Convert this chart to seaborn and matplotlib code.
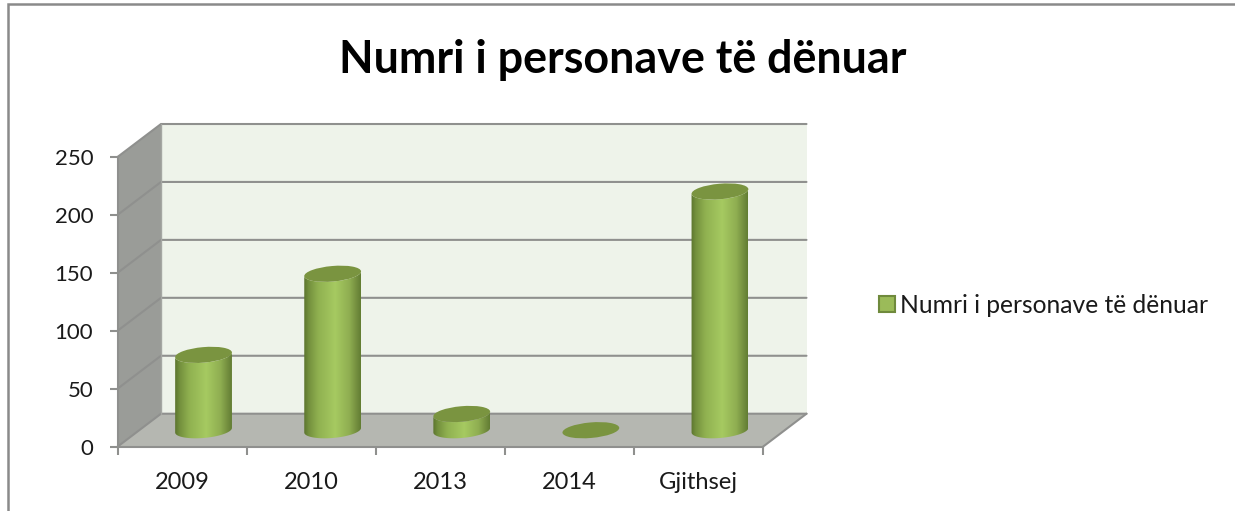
import numpy as np
import pandas as pd
import matplotlib
matplotlib.use("Agg")
import matplotlib.pyplot as plt
import seaborn as sns
from matplotlib.colors import LinearSegmentedColormap
from matplotlib.lines import Line2D
from matplotlib.patches import Ellipse, Patch, PathPatch, Polygon
from matplotlib.path import Path
from matplotlib.transforms import IdentityTransform, ScaledTranslation

title = "Numri i personave të dënuar"
categories = ["2009", "2010", "2013", "2014", "Gjithsej"]
values = [65, 135, 14, 0, 206]
y_ticks = [0, 50, 100, 150, 200, 250]

W, H, DPI = 1235, 511, 100
sns.set_style("white")
plt.rcParams["font.family"] = ["Lato", "DejaVu Sans"]

GRID = "#8f908e"
TEXT = "#1a1a1a"
fig = plt.figure(figsize=(W / DPI, H / DPI), dpi=DPI, facecolor="white")
ax = fig.add_axes([117.5 / W, 1 - 446.7 / H, (763 - 117.5) / W, (446.7 - 157) / H])
ax.patch.set_visible(False)

df = pd.DataFrame({"year": categories, "count": values})
sns.barplot(data=df, x="year", y="count", color="#9BBB59", width=0.434,
            saturation=1, ax=ax, zorder=5)
ax.set_xlim(-0.5, 4.5)
ax.set_ylim(0, 250)
ax.set_xlabel("")
ax.set_ylabel("")

# 3D box drawn in data units
x0, x1 = -0.5, 4.5
dx, dy = 43.5 / 129.1, 33 / 1.159
ax.add_patch(Polygon([(x0 + dx, dy), (x1 + dx, dy), (x1 + dx, 250 + dy), (x0 + dx, 250 + dy)],
                     fc="#eef3ea", ec="none", clip_on=False, zorder=1))
ax.add_patch(Polygon([(x0, 0), (x0 + dx, dy), (x0 + dx, 250 + dy), (x0, 250)],
                     fc="#9a9c98", ec="none", clip_on=False, zorder=1))
ax.add_patch(Polygon([(x0, 0), (x1, 0), (x1 + dx, dy), (x0 + dx, dy)],
                     fc="#b5b7b1", ec="none", clip_on=False, zorder=1))
for v in y_ticks:
    ax.plot([x0, x0 + dx, x1 + dx], [v, v + dy, v + dy], color=GRID, lw=1.5,
            clip_on=False, zorder=2, solid_joinstyle="miter")
ax.plot([x1, x1 + dx], [0, dy], color=GRID, lw=1.5, clip_on=False, zorder=2)
ax.plot([x0 + dx, x0 + dx], [dy, 250 + dy], color="#a5a7a3", lw=1, clip_on=False, zorder=2)

# Axes
for s in ("top", "right"):
    ax.spines[s].set_visible(False)
for s in ("left", "bottom"):
    ax.spines[s].set_color(GRID)
    ax.spines[s].set_linewidth(1.5)
    ax.spines[s].set_zorder(3)
ax.set_yticks(y_ticks)
ax.set_xticks(range(len(categories)))
ax.set_xticklabels(categories)
ax.set_xticks(np.arange(x0, x1 + 0.5, 1), minor=True)
ax.tick_params(axis="y", which="major", left=True, length=6, width=1.5, color=GRID,
               labelsize=16, labelcolor=TEXT, pad=11.5)
ax.tick_params(axis="x", which="major", bottom=False, length=0, labelsize=17,
               labelcolor=TEXT, pad=18)
ax.tick_params(axis="x", which="minor", bottom=True, length=6, width=1.5, color=GRID)

# Cylinders built from the bars seaborn drew
fig.canvas.draw()
off_x, off_y = 21.5, 16.5
offset = ScaledTranslation(off_x / DPI, off_y / DPI, fig.dpi_scale_trans)
cmap = LinearSegmentedColormap.from_list(
    "cyl", [(0, "#5c752e"), (0.08, "#73903d"), (0.25, "#90b150"), (0.55, "#a6ca61"),
            (0.8, "#8fae51"), (0.93, "#728d3e"), (1, "#627d33")])
grad = np.linspace(0, 1, 128).reshape(1, -1)
ANGLE = 5
ell_w, ell_h = 57, 15.5
t = np.radians(ANGLE)


def ellipse_point(cx, cy, th):
    a, b = ell_w / 2, ell_h / 2
    ex, ey = a * np.cos(th), b * np.sin(th)
    return cx + ex * np.cos(t) - ey * np.sin(t), cy + ex * np.sin(t) + ey * np.cos(t)


for bar in list(ax.patches):
    if not isinstance(bar, matplotlib.patches.Rectangle) or bar.get_width() > 1:
        continue
    xc = bar.get_x() + bar.get_width() / 2
    val = bar.get_height()
    bar.set_transform(ax.transData + offset)
    bar.set_clip_on(False)
    bar.set_edgecolor("none")
    base = ax.transData.transform((xc, 0)) + (off_x, off_y)
    top = ax.transData.transform((xc, val)) + (off_x, off_y)
    if val > 0:
        th = np.linspace(np.pi, 2 * np.pi, 40)
        bx, by = ellipse_point(base[0], base[1], th)
        tx, ty = ellipse_point(top[0], top[1], th[::-1])
        clip = PathPatch(Path(np.column_stack([np.r_[bx, tx], np.r_[by, ty]])),
                         transform=IdentityTransform(), fc="none", ec="none")
        ax.add_patch(clip)
        px0, px1 = base[0] - ell_w / 2, base[0] + ell_w / 2
        im = ax.imshow(grad, cmap=cmap, aspect="auto", zorder=6, interpolation="bilinear",
                       extent=(px0, px1, base[1] - 20, top[1] + 20),
                       transform=IdentityTransform())
        im.set_clip_path(clip)
    bar.set_visible(False)
    ax.add_patch(Ellipse(top, ell_w, ell_h, angle=ANGLE, fc="#7a9440", ec="none",
                         transform=IdentityTransform(), clip_on=False, zorder=7))
ax.set_xlim(-0.5, 4.5)
ax.set_ylim(0, 250)

# Title, legend and chart frame
fig.text(623 / W, 1 - 60 / H, title, ha="center", va="center", fontsize=32.3,
         fontweight="bold", color="black")
handle = Patch(facecolor="#9BBB59", edgecolor="#6f8a3c", linewidth=1.5, label=title)
fig.legend(handles=[handle], loc="center left", bbox_to_anchor=(879 / W, 1 - 305 / H),
           frameon=False, fontsize=17.7, handlelength=0.65, handleheight=0.65,
           handletextpad=0.2, borderpad=0, borderaxespad=0, labelcolor=TEXT)
fig.add_artist(Line2D([7.5 / W, 7.5 / W, 1], [0, 1 - 4.5 / H, 1 - 4.5 / H],
                      color="#8a8a8a", lw=1.8, solid_joinstyle="miter"))

fig.savefig("out.png", dpi=DPI)
